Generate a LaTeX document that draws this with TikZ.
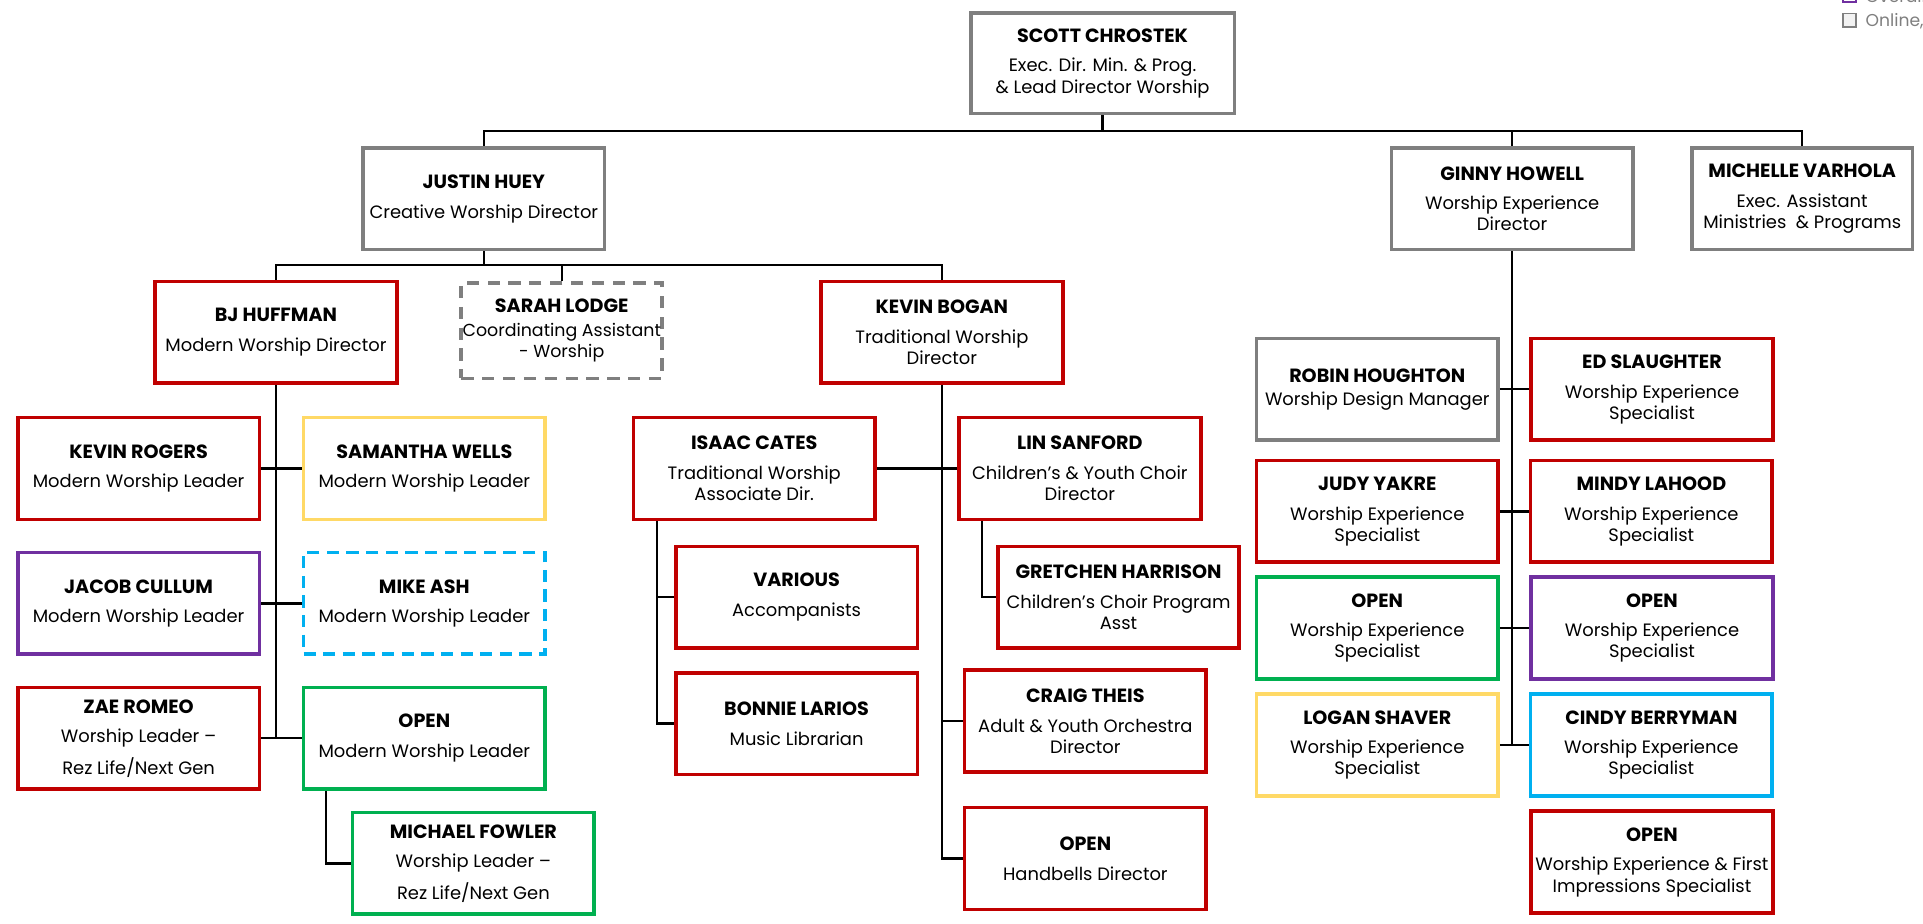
\documentclass[tikz,border=0pt]{standalone}
\usepackage{fontspec}
\setmainfont{Poppins}
\usepackage{tikz}

\definecolor{boxred}{HTML}{C00000}
\definecolor{boxgray}{HTML}{7F7F7F}
\definecolor{boxyellow}{HTML}{FFD966}
\definecolor{boxgreen}{HTML}{00B050}
\definecolor{boxpurple}{HTML}{7030A0}
\definecolor{boxblue}{HTML}{00B0F0}

\newcommand{\nm}[1]{{\fontsize{15.6}{17.5}\selectfont\textbf{#1}}}
\newcommand{\who}[2]{\nm{#1}\\[7pt]#2}

\begin{document}
\begin{tikzpicture}[x=1pt,y=-1pt,
  box/.style={draw, rectangle, line width=3pt, minimum width=197pt, minimum height=83pt,
    align=center, inner sep=1pt, font=\fontsize{14.6}{17.2}\selectfont},
  link/.style={line width=1.8pt}]
  \useasboundingbox (0,0) rectangle (1568,753.4);

  % Top of the chart
  \node[box, draw=boxgray, minimum width=215pt, minimum height=82pt] (scott) at (899,51.5)
    {\who{SCOTT CHROSTEK}{Exec. Dir. Min. \& Prog.\\\& Lead Director Worship}};
  \node[box, draw=boxgray] (justin) at (394.5,162) {\who{JUSTIN HUEY}{Creative Worship Director}};
  \node[box, draw=boxgray] (ginny) at (1233,162) {\who{GINNY HOWELL}{Worship Experience\\Director}};
  \node[box, draw=boxgray, minimum width=180pt] (michelle) at (1469.5,162)
    {\who{MICHELLE VARHOLA}{Exec. Assistant\\Ministries~ \& Programs}};

  % Creative worship
  \node[box, draw=boxred] (bj) at (225,271) {\who{BJ HUFFMAN}{Modern Worship Director}};
  \node[box, draw=boxgray, dashed, dash pattern=on 10pt off 7pt, minimum width=161pt, minimum height=78pt,
    font=\fontsize{14.2}{17}\selectfont] (sarah) at (458,269.5)
    {\nm{SARAH LODGE}\\[2pt]Coordinating Assistant\\- Worship};
  \node[box, draw=boxred] (kevinb) at (768,271) {\who{KEVIN BOGAN}{Traditional Worship\\Director}};

  % Modern worship
  \node[box, draw=boxred] (kevinr) at (113,382) {\who{KEVIN ROGERS}{Modern Worship Leader}};
  \node[box, draw=boxyellow] (samantha) at (346,382) {\who{SAMANTHA WELLS}{Modern Worship Leader}};
  \node[box, draw=boxpurple] (jacob) at (113,492) {\who{JACOB CULLUM}{Modern Worship Leader}};
  \node[box, draw=boxblue, dash pattern=on 10pt off 6pt] (mike) at (346,492) {\who{MIKE ASH}{Modern Worship Leader}};
  \node[box, draw=boxred] (zae) at (113,602) {\who{ZAE ROMEO}{Worship Leader –\\[7pt]Rez Life/Next Gen}};
  \node[box, draw=boxgreen] (openml) at (346,602) {\who{OPEN}{Modern Worship Leader}};
  \node[box, draw=boxgreen] (michael) at (386,704) {\who{MICHAEL FOWLER}{Worship Leader –\\[7pt]Rez Life/Next Gen}};

  % Traditional worship
  \node[box, draw=boxred] (isaac) at (615,382) {\who{ISAAC CATES}{Traditional Worship\\Associate Dir.}};
  \node[box, draw=boxred] (lin) at (880.5,382) {\who{LIN SANFORD}{Children’s \& Youth Choir\\Director}};
  \node[box, draw=boxred] (various) at (649.5,487) {\who{VARIOUS}{Accompanists}};
  \node[box, draw=boxred] (bonnie) at (649.5,590) {\who{BONNIE LARIOS}{Music Librarian}};
  \node[box, draw=boxred] (gretchen) at (912,487) {\who{GRETCHEN HARRISON}{Children’s Choir Program\\Asst}};
  \node[box, draw=boxred] (craig) at (885,588) {\who{CRAIG THEIS}{Adult \& Youth Orchestra\\Director}};
  \node[box, draw=boxred] (openhb) at (885,700) {\who{OPEN}{Handbells Director}};

  % Worship experience
  \node[box, draw=boxgray] (robin) at (1123,317.5) {\nm{ROBIN HOUGHTON}\\[2pt]Worship Design Manager};
  \node[box, draw=boxred] (ed) at (1347,317.5) {\who{ED SLAUGHTER}{Worship Experience\\Specialist}};
  \node[box, draw=boxred] (judy) at (1123,417) {\who{JUDY YAKRE}{Worship Experience\\Specialist}};
  \node[box, draw=boxred] (mindy) at (1346.5,417) {\who{MINDY LAHOOD}{Worship Experience\\Specialist}};
  \node[box, draw=boxgreen] (opengr) at (1123,512) {\who{OPEN}{Worship Experience\\Specialist}};
  \node[box, draw=boxpurple] (openpu) at (1347,512) {\who{OPEN}{Worship Experience\\Specialist}};
  \node[box, draw=boxyellow] (logan) at (1123,607.5) {\who{LOGAN SHAVER}{Worship Experience\\Specialist}};
  \node[box, draw=boxblue] (cindy) at (1346.5,607.5) {\who{CINDY BERRYMAN}{Worship Experience\\Specialist}};
  \node[box, draw=boxred] (openfi) at (1347,703) {\who{OPEN}{Worship Experience \& First\\Impressions Specialist}};

  % Key, cut off at the edge
  \node[draw=boxpurple, line width=1.5pt, minimum size=11pt, inner sep=0pt] (keyone) at (1508,-4) {};
  \node[draw=boxgray, fill=black!5, line width=1.5pt, minimum size=11pt, inner sep=0pt] (keytwo) at (1508,16.5) {};
  \node[anchor=base west, text=boxgray, inner sep=0pt, font=\fontsize{14}{17}\selectfont] (keyonetxt) at (1521,2) {Overall};
  \node[anchor=base west, text=boxgray, inner sep=0pt, font=\fontsize{14}{17}\selectfont] (keytwotxt) at (1521,22) {Online,};

  % Connectors
  \coordinate (topbus) at (899,107);
  \coordinate (creativebus) at (394.5,216);
  \coordinate (isaacstem) at ([xshift=21pt]isaac.south west);
  \coordinate (linstem) at ([xshift=20pt]lin.south west);
  \coordinate (openstem) at ([xshift=20pt]openml.south west);

  \draw[link] (scott) -- (topbus);
  \draw[link] (justin.north) |- (topbus) -| (michelle.north);
  \draw[link] (ginny.north) -- (ginny.north |- topbus);
  \draw[link] (justin) -- (creativebus);
  \draw[link] (bj.north) |- (creativebus) -| (kevinb.north);
  \draw[link] (sarah.north) -- (sarah.north |- creativebus);

  \draw[link] (bj.south) -- (bj.south |- zae.east);
  \draw[link] (kevinr.east) -- (samantha.west);
  \draw[link] (jacob.east) -- (mike.west);
  \draw[link] (zae.east) -- (openml.west);
  \draw[link] (openstem) |- (michael.west);

  \draw[link] (kevinb.south) |- (openhb.west);
  \draw[link] (isaac.east) -- (lin.west);
  \draw[link] (kevinb.south |- craig.west) -- (craig.west);
  \draw[link] (isaacstem) |- (bonnie.west);
  \draw[link] (isaacstem |- various.west) -- (various.west);
  \draw[link] (linstem) |- (gretchen.west);

  \draw[link] (ginny.south) -- (ginny.south |- logan.east);
  \draw[link] (robin.east) -- (ed.west);
  \draw[link] (judy.east) -- (mindy.west);
  \draw[link] (opengr.east) -- (openpu.west);
  \draw[link] (logan.east) -- (cindy.west);
\end{tikzpicture}
\end{document}
